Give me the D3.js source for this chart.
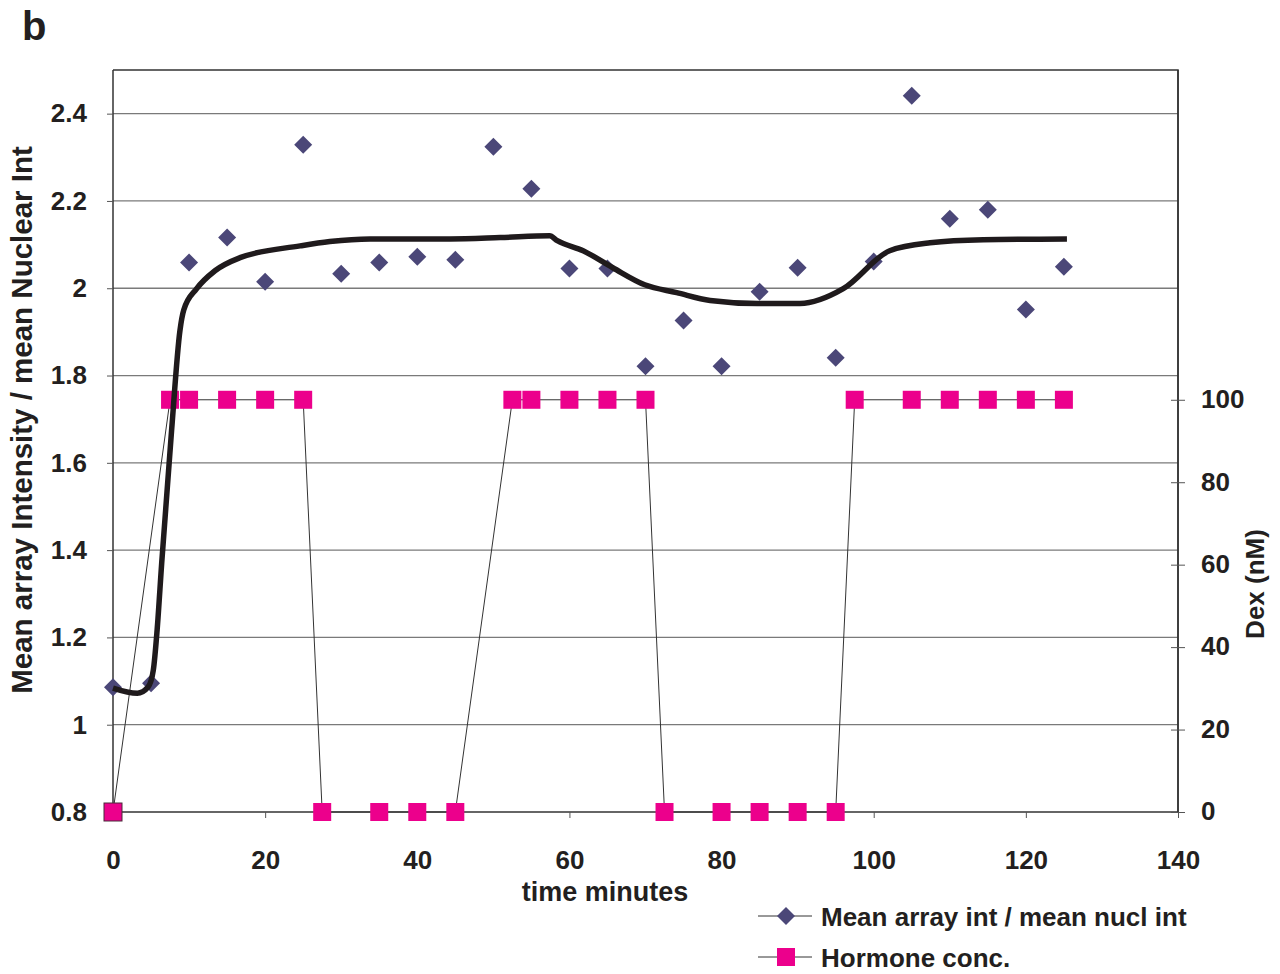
<!DOCTYPE html>
<html>
<head>
<meta charset="utf-8">
<script src="https://cdn.jsdelivr.net/npm/d3@7"></script>
<style>
  body { margin: 0; background: #fff; }
  svg text { font-family: 'Liberation Sans', Arial, Helvetica, sans-serif; font-weight: bold; fill: #231f20; }
</style>
</head>
<body>
<div class="dataviz"></div>
<script>
// diamonds: mean array int / mean nucl int
const ratioTimes = [0, 5, 10, 15, 20, 25, 30, 35, 40, 45, 50, 55, 60, 65, 70, 75, 80, 85, 90, 95, 100, 105, 110, 115, 120, 125]
const ratioValues = [1.086, 1.095, 2.059, 2.116, 2.015, 2.329, 2.033, 2.059, 2.072, 2.065, 2.324, 2.228, 2.045, 2.045,
  1.821, 1.926, 1.821, 1.992, 2.047, 1.841, 2.061, 2.441, 2.159, 2.180, 1.951, 2.049]

// squares: hormone conc. (Dex nM)
const hormoneTimes = [0, 7.5, 10, 15, 20, 25, 27.5, 35, 40, 45, 52.5, 55, 60, 65, 70, 72.5, 80, 85, 90, 95, 97.5, 105, 110, 115, 120, 125]
const hormoneValues = [0, 100, 100, 100, 100, 100, 0, 0, 0, 0, 100, 100, 100, 100, 100, 0, 0, 0, 0, 0, 100, 100, 100, 100, 100, 100]

// smoothed trend line
const trendTimes = [0, 3.2, 4.6, 5.3, 5.8, 6.4, 7.7, 8.8, 9.3, 11, 13.4, 16.7, 24.6, 28.5, 33.8, 44.3, 50.9, 57.4, 58.4,
  61.8, 65.7, 69.9, 74.1, 78.5, 84.7, 90.3, 96, 102.1, 107.4, 114.4, 125.4]
const trendValues = [1.084, 1.072, 1.086, 1.125, 1.217, 1.37, 1.674, 1.903, 1.95, 1.999, 2.04, 2.07, 2.097, 2.107, 2.113,
  2.113, 2.116, 2.12, 2.109, 2.086, 2.047, 2.008, 1.99, 1.972, 1.965, 1.965, 1.999, 2.086, 2.104, 2.111, 2.113]

const xTicks = [0, 20, 40, 60, 80, 100, 120, 140]
const leftTicks = [0.8, 1, 1.2, 1.4, 1.6, 1.8, 2, 2.2, 2.4]
const rightTicks = [0, 20, 40, 60, 80, 100]

const width = 1280
const height = 974
const m = { left: 113, right: 1178, top: 70, bottom: 812 }

const svg = d3.select('.dataviz').append('svg').attr('width', width).attr('height', height)

const x = d3.scaleLinear().domain([0, 140]).range([m.left, m.right])
const yL = d3.scaleLinear().domain([0.8, 2.5]).range([m.bottom, m.top])
const yR = d3.scaleLinear().domain([0, 180]).range([m.bottom, m.top])

// gridlines
svg.append('g')
  .selectAll('line')
  .data(leftTicks.slice(1))
  .join('line')
  .attr('x1', m.left).attr('x2', m.right)
  .attr('y1', d => yL(d)).attr('y2', d => yL(d))
  .attr('stroke', '#7a7a7a').attr('stroke-width', 1.3)

// frame top / right
svg.append('path')
  .attr('d', `M${m.left},${m.top}H${m.right}V${m.bottom}`)
  .attr('fill', 'none').attr('stroke', '#333').attr('stroke-width', 1.5)

// axes
const xAxis = svg.append('g').attr('transform', `translate(0,${m.bottom})`)
  .call(d3.axisBottom(x).tickValues(xTicks).tickSize(6).tickPadding(33).tickFormat(d3.format('d')))
const yAxis = svg.append('g').attr('transform', `translate(${m.left},0)`)
  .call(d3.axisLeft(yL).tickValues(leftTicks).tickSize(6).tickPadding(20).tickFormat(d => d3.format('')(d)))
const rAxis = svg.append('g').attr('transform', `translate(${m.right},0)`)
  .call(d3.axisRight(yR).tickValues(rightTicks).tickSize(7).tickPadding(16))

rAxis.selectAll('.tick line').attr('x1', -7)
rAxis.selectAll('.tick text').attr('dy', '0.3em')

;[xAxis, yAxis, rAxis].forEach(a => {
  a.select('.domain').attr('stroke', '#333').attr('stroke-width', 1.5)
  a.selectAll('.tick line').attr('stroke', '#555')
  a.selectAll('.tick text').style('font-size', '26px').attr('fill', '#231f20')
})
rAxis.select('.domain').attr('d', `M0,${m.top}V${m.bottom}`)
xAxis.select('.domain').attr('d', `M${m.left},0H${m.right}`)
yAxis.select('.domain').attr('d', `M0,${m.top}V${m.bottom}`)

// hormone line + squares
const hormone = hormoneTimes.map((t, i) => ({ t, v: hormoneValues[i] }))
svg.append('path')
  .datum(hormone)
  .attr('fill', 'none').attr('stroke', '#333').attr('stroke-width', 1)
  .attr('d', d3.line().x(d => x(d.t)).y(d => yR(d.v)))

svg.append('g')
  .selectAll('rect')
  .data(hormone)
  .join('rect')
  .attr('x', d => x(d.t) - 9).attr('y', d => yR(d.v) - 9)
  .attr('width', 18).attr('height', 18)
  .attr('fill', '#ec008c')
  .attr('stroke', (d, i) => i === 0 ? '#4a2a3a' : 'none').attr('stroke-width', 1)

// diamonds
const ratio = ratioTimes.map((t, i) => ({ t, v: ratioValues[i] }))
const diamond = 'M0,-9L9,0L0,9L-9,0Z'
svg.append('g')
  .selectAll('path')
  .data(ratio)
  .join('path')
  .attr('transform', d => `translate(${x(d.t)},${yL(d.v)})`)
  .attr('d', diamond)
  .attr('fill', '#4b4778')

// trend line
const trend = trendTimes.map((t, i) => ({ t, v: trendValues[i] }))
svg.append('path')
  .datum(trend)
  .attr('fill', 'none').attr('stroke', '#1f1a1c').attr('stroke-width', 5.5)
  .attr('stroke-linejoin', 'round')
  .attr('d', d3.line().curve(d3.curveMonotoneX).x(d => x(d.t)).y(d => yL(d.v)))

// titles
svg.append('text').attr('x', 22).attr('y', 40).style('font-size', '40px').text('b')

svg.append('text')
  .attr('transform', 'translate(32,420) rotate(-90)')
  .attr('text-anchor', 'middle').style('font-size', '29.5px')
  .text('Mean array Intensity / mean Nuclear Int')

svg.append('text')
  .attr('transform', 'translate(1264,584) rotate(-90)')
  .attr('text-anchor', 'middle').style('font-size', '26px')
  .text('Dex (nM)')

svg.append('text')
  .attr('x', 605).attr('y', 901)
  .attr('text-anchor', 'middle').style('font-size', '27px')
  .text('time minutes')

// legend
const legend = svg.append('g').attr('transform', 'translate(758,916)')
const items = [
  { label: 'Mean array int / mean nucl int', shape: 'diamond' },
  { label: 'Hormone conc.', shape: 'square' }
]
items.forEach((it, i) => {
  const g = legend.append('g').attr('transform', `translate(0,${i * 41})`)
  g.append('line').attr('x1', 0).attr('x2', 54).attr('stroke', '#333').attr('stroke-width', 1)
  if (it.shape === 'diamond') {
    g.append('path').attr('d', diamond).attr('transform', 'translate(28,0)').attr('fill', '#4b4778')
  } else {
    g.append('rect').attr('x', 19).attr('y', -9).attr('width', 18).attr('height', 18).attr('fill', '#ec008c')
  }
  g.append('text').attr('x', 63).attr('y', 10).style('font-size', '26px').text(it.label)
})
</script>
</body>
</html>
